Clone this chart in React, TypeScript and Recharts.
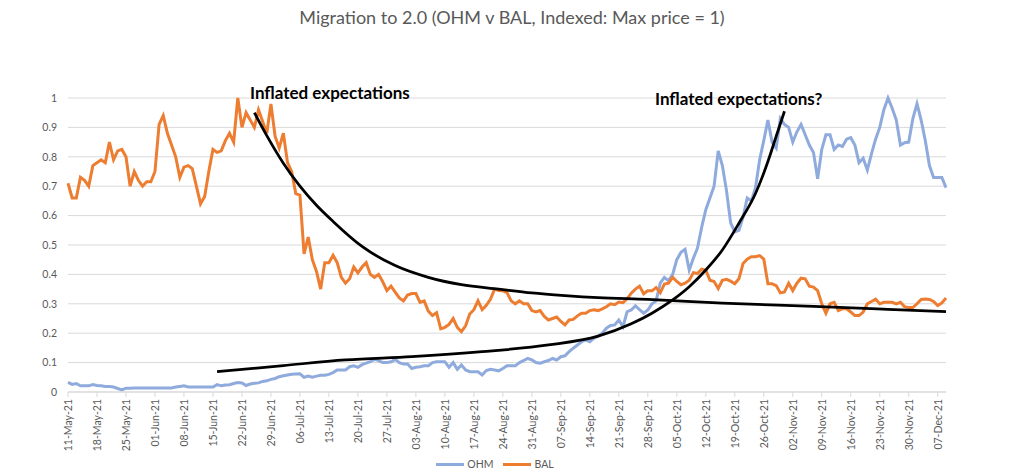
import React from 'react';
import { LineChart, Line, XAxis, YAxis, CartesianGrid, Legend } from 'recharts';

// Daily closes from 11-May-21 to 09-Dec-21, each indexed so its max = 1
const START_DAY = Date.UTC(2021, 4, 11);
const DAY_COUNT = 213;
const MONTHS = ['Jan', 'Feb', 'Mar', 'Apr', 'May', 'Jun', 'Jul', 'Aug', 'Sep', 'Oct', 'Nov', 'Dec'];

const ohm = [
  0.033, 0.026, 0.029, 0.021, 0.021, 0.021, 0.025, 0.022, 0.021, 0.019,
  0.019, 0.017, 0.012, 0.007, 0.013, 0.013, 0.014, 0.014, 0.014, 0.014,
  0.014, 0.014, 0.014, 0.014, 0.014, 0.014, 0.017, 0.019, 0.021, 0.017,
  0.017, 0.017, 0.017, 0.017, 0.017, 0.017, 0.025, 0.021, 0.024, 0.025,
  0.029, 0.032, 0.031, 0.022, 0.027, 0.030, 0.031, 0.036, 0.038, 0.043,
  0.046, 0.052, 0.055, 0.058, 0.060, 0.061, 0.062, 0.050, 0.054, 0.050,
  0.054, 0.057, 0.057, 0.060, 0.066, 0.075, 0.075, 0.075, 0.086, 0.089,
  0.084, 0.093, 0.098, 0.103, 0.111, 0.107, 0.100, 0.100, 0.103, 0.111,
  0.100, 0.095, 0.095, 0.080, 0.084, 0.086, 0.089, 0.089, 0.100, 0.103,
  0.103, 0.103, 0.084, 0.100, 0.077, 0.092, 0.075, 0.069, 0.069, 0.069,
  0.058, 0.073, 0.077, 0.075, 0.072, 0.080, 0.089, 0.089, 0.089, 0.100,
  0.107, 0.114, 0.109, 0.100, 0.098, 0.103, 0.107, 0.114, 0.109, 0.120,
  0.123, 0.137, 0.149, 0.160, 0.171, 0.177, 0.171, 0.183, 0.190, 0.200,
  0.217, 0.226, 0.228, 0.245, 0.222, 0.273, 0.279, 0.293, 0.280, 0.268,
  0.279, 0.300, 0.310, 0.370, 0.390, 0.378, 0.400, 0.450, 0.475, 0.485,
  0.415, 0.455, 0.490, 0.560, 0.620, 0.660, 0.700, 0.820, 0.770, 0.685,
  0.575, 0.545, 0.550, 0.595, 0.660, 0.650, 0.695, 0.790, 0.855, 0.925,
  0.850, 0.830, 0.930, 0.910, 0.900, 0.850, 0.885, 0.910, 0.875, 0.840,
  0.815, 0.725, 0.825, 0.875, 0.875, 0.825, 0.840, 0.835, 0.860, 0.865,
  0.840, 0.780, 0.795, 0.755, 0.810, 0.860, 0.900, 0.960, 1.000, 0.965,
  0.925, 0.840, 0.848, 0.850, 0.930, 0.980, 0.925, 0.855, 0.770, 0.730,
  0.730, 0.730, 0.695,
];

const bal = [
  0.71, 0.66, 0.66, 0.73, 0.72, 0.70, 0.77, 0.78, 0.79, 0.78,
  0.85, 0.79, 0.82, 0.825, 0.80, 0.70, 0.75, 0.72, 0.70, 0.715,
  0.715, 0.75, 0.91, 0.94, 0.88, 0.84, 0.80, 0.73, 0.765, 0.77,
  0.76, 0.70, 0.64, 0.665, 0.75, 0.825, 0.815, 0.82, 0.855, 0.88,
  0.85, 1.0, 0.90, 0.95, 0.925, 0.90, 0.96, 0.92, 0.88, 0.98,
  0.87, 0.83, 0.88, 0.78, 0.75, 0.675, 0.67, 0.47, 0.527, 0.45,
  0.41, 0.35, 0.44, 0.44, 0.465, 0.44, 0.39, 0.37, 0.385, 0.425,
  0.405, 0.425, 0.44, 0.40, 0.39, 0.40, 0.375, 0.345, 0.36, 0.34,
  0.32, 0.31, 0.33, 0.335, 0.335, 0.305, 0.31, 0.275, 0.26, 0.27,
  0.215, 0.22, 0.23, 0.25, 0.22, 0.205, 0.225, 0.265, 0.28, 0.31,
  0.28, 0.295, 0.315, 0.35, 0.345, 0.344, 0.338, 0.31, 0.30, 0.31,
  0.30, 0.30, 0.277, 0.272, 0.277, 0.257, 0.245, 0.25, 0.255, 0.24,
  0.228, 0.245, 0.247, 0.259, 0.268, 0.268, 0.277, 0.28, 0.277, 0.283,
  0.29, 0.30, 0.297, 0.306, 0.304, 0.317, 0.336, 0.35, 0.36, 0.334,
  0.344, 0.344, 0.355, 0.338, 0.367, 0.37, 0.39, 0.376, 0.365, 0.37,
  0.38, 0.406, 0.403, 0.418, 0.415, 0.38, 0.376, 0.352, 0.38, 0.383,
  0.377, 0.368, 0.385, 0.437, 0.452, 0.46, 0.46, 0.464, 0.452, 0.368,
  0.368, 0.362, 0.337, 0.34, 0.37, 0.345, 0.37, 0.387, 0.385, 0.36,
  0.357, 0.345, 0.30, 0.268, 0.30, 0.305, 0.277, 0.283, 0.283, 0.272,
  0.26, 0.26, 0.272, 0.30, 0.308, 0.316, 0.30, 0.305, 0.305, 0.305,
  0.30, 0.305, 0.29, 0.287, 0.287, 0.30, 0.315, 0.316, 0.315, 0.308,
  0.294, 0.303, 0.32,
];

// hand-drawn annotation curves as [day index, value]
const hypeDecay = [
  [45, 0.95], [48, 0.872], [52, 0.778], [56, 0.70], [60, 0.635], [64, 0.58],
  [71, 0.495], [79, 0.43], [87, 0.39], [95, 0.365], [104, 0.35], [112, 0.337],
  [120, 0.328], [128, 0.321], [140, 0.315], [158, 0.302], [180, 0.291],
  [198, 0.281], [212, 0.273],
];
const hypeGrowth = [
  [36, 0.069], [52, 0.09], [67, 0.109], [83, 0.12], [100, 0.137], [116, 0.16],
  [128, 0.19], [136, 0.232], [141, 0.268], [146, 0.313], [150, 0.358],
  [154, 0.415], [158, 0.483], [162, 0.574], [166, 0.675], [169, 0.784],
  [171, 0.87], [173, 0.955],
];

const Y_TICKS = [0, 0.1, 0.2, 0.3, 0.4, 0.5, 0.6, 0.7, 0.8, 0.9, 1];

const OHM_COLOR = '#8FAADC';
const BAL_COLOR = '#ED7D31';
const GREY = '#595959';
const FONT = 'Lato, "Open Sans", sans-serif';

const legendItems = [
  { name: 'OHM', color: OHM_COLOR },
  { name: 'BAL', color: BAL_COLOR },
];

function dayLabel(i: number) {
  const d = new Date(START_DAY + i * 86400000);
  const dd = String(d.getUTCDate()).padStart(2, '0');
  return `${dd}-${MONTHS[d.getUTCMonth()]}-${String(d.getUTCFullYear()).slice(2)}`;
}

const decayMap = new Map(hypeDecay.map(([d, v]) => [d, v]));
const growthMap = new Map(hypeGrowth.map(([d, v]) => [d, v]));

const data = Array.from({ length: DAY_COUNT }, (_, i) => ({
  date: dayLabel(i),
  ohm: ohm[i],
  bal: bal[i],
  decay: decayMap.has(i) ? decayMap.get(i) : null,
  growth: growthMap.has(i) ? growthMap.get(i) : null,
}));

const DateTick = ({ x, y, payload }: any) => (
  <text
    x={x}
    y={y}
    transform={`rotate(-90 ${x} ${y})`}
    textAnchor="end"
    dominantBaseline="central"
    fontSize={10.5}
    fontFamily={FONT}
    fill={GREY}
  >
    {payload.value}
  </text>
);

const LegendContent = () => (
  <div style={{ display: 'flex', justifyContent: 'center', alignItems: 'center', gap: 10, height: 20 }}>
    {legendItems.map(item => (
      <div key={item.name} style={{ display: 'flex', alignItems: 'center', gap: 3 }}>
        <span style={{ display: 'inline-block', width: 28, height: 3, background: item.color }} />
        <span style={{ fontSize: 10.5, color: GREY, fontFamily: FONT }}>{item.name}</span>
      </div>
    ))}
  </div>
);

export default function App() {
  return (
    <div style={{ position: 'relative', width: 1024, height: 476, background: '#fff', fontFamily: FONT }}>
      <style>{'body { margin: 0; }'}</style>
      <div style={{ position: 'absolute', top: 6, left: 0, width: 1024, textAlign: 'center', fontSize: 18, color: GREY }}>
        Migration to 2.0 (OHM v BAL, Indexed: Max price = 1)
      </div>

      <LineChart width={1024} height={476} data={data} margin={{ top: 98, right: 78, bottom: 2, left: 0 }}>
        <CartesianGrid vertical={false} stroke="#d9d9d9" />
        <XAxis
          dataKey="date"
          interval={6}
          height={62}
          tickSize={5}
          axisLine={{ stroke: '#d9d9d9' }}
          tickLine={{ stroke: '#d9d9d9' }}
          tick={<DateTick />}
        />
        <YAxis
          domain={[0, 1]}
          ticks={Y_TICKS}
          width={68}
          axisLine={false}
          tickLine={false}
          tickMargin={5}
          tick={{ fontSize: 10.5, fill: GREY, fontFamily: FONT }}
        />
        <Legend verticalAlign="bottom" wrapperStyle={{ left: 0, width: 990 }} content={<LegendContent />} />

        <Line dataKey="ohm" name="OHM" type="linear" stroke={OHM_COLOR} strokeWidth={3} dot={false} isAnimationActive={false} />
        <Line dataKey="bal" name="BAL" type="linear" stroke={BAL_COLOR} strokeWidth={3} dot={false} isAnimationActive={false} />

        {/* annotation curves */}
        <Line dataKey="decay" type="monotone" stroke="#000" strokeWidth={2.75} dot={false} connectNulls legendType="none" isAnimationActive={false} />
        <Line dataKey="growth" type="monotone" stroke="#000" strokeWidth={2.75} dot={false} connectNulls legendType="none" isAnimationActive={false} />
      </LineChart>

      <div style={{ position: 'absolute', left: 250, top: 82, fontSize: 17, fontWeight: 700, color: '#000' }}>
        Inflated expectations
      </div>
      <div style={{ position: 'absolute', left: 655, top: 88, fontSize: 17, fontWeight: 700, color: '#000' }}>
        Inflated expectations?
      </div>
    </div>
  );
}
